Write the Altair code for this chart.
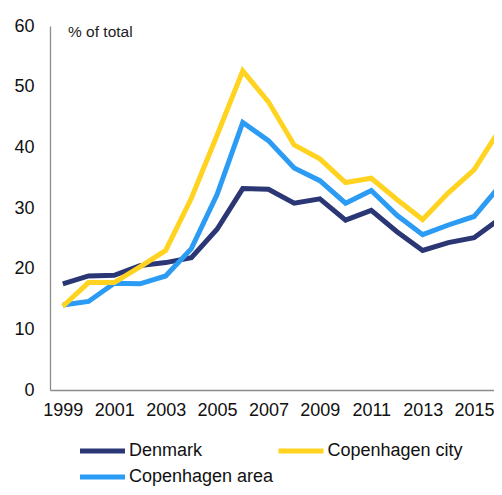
import altair as alt
import pandas as pd

years = list(range(1999, 2017))
denmark = [17.5, 18.8, 18.9, 20.5, 21.0, 21.8, 26.5, 33.2, 33.1, 30.8, 31.5, 28.0, 29.6, 26.1, 23.0, 24.3, 25.1, 28.2]
cph_city = [13.8, 17.7, 17.7, 20.3, 23.0, 31.6, 42.0, 52.6, 47.5, 40.4, 38.1, 34.2, 34.9, 31.4, 28.1, 32.5, 36.3, 42.9]
cph_area = [14.0, 14.6, 17.6, 17.5, 18.8, 23.3, 32.2, 44.1, 41.1, 36.6, 34.5, 30.8, 32.9, 28.8, 25.6, 27.2, 28.6, 33.6]

# legend is filled column by column: Denmark, Copenhagen area | Copenhagen city
series_names = ["Denmark", "Copenhagen area", "Copenhagen city"]
series_values = [denmark, cph_area, cph_city]
series_colors = ["#2B3674", "#2B9BF4", "#FFD320"]
draw_order = [0, 2, 1]
x_ticks = list(range(1999, 2016, 2))
y_ticks = [0, 10, 20, 30, 40, 50, 60]
note = "% of total"

rows = []
for name, vals, z in zip(series_names, series_values, draw_order):
    for yr, v in zip(years, vals):
        rows.append({"year": yr, "series": name, "value": v, "z": z})
df = pd.DataFrame(rows)

FONT = "Liberation Sans"

lines = alt.Chart(df).mark_line(strokeWidth=5, clip=True).encode(
    x=alt.X(
        "year:Q",
        scale=alt.Scale(domain=[1998.5, 2015.776], nice=False, zero=False),
        axis=alt.Axis(values=x_ticks, format="d", title=None, grid=False, ticks=False,
                      labelPadding=11, labelFontSize=18, labelFont=FONT, labelColor="#111111",
                      domainColor="#8c8c8c", domainWidth=1.3, labelFlush=False),
    ),
    y=alt.Y(
        "value:Q",
        scale=alt.Scale(domain=[0, 60], nice=False),
        axis=alt.Axis(values=y_ticks, title=None, grid=False, ticks=False,
                      labelPadding=16, labelFontSize=18, labelFont=FONT, labelColor="#111111",
                      domainColor="#8c8c8c", domainWidth=1.3),
    ),
    color=alt.Color(
        "series:N",
        scale=alt.Scale(domain=series_names, range=series_colors),
        legend=alt.Legend(
            title=None, orient="none", legendX=27.5, legendY=415, columns=2,
            symbolType="stroke", symbolSize=2025, symbolStrokeWidth=5,
            clipHeight=20, rowPadding=6, columnPadding=2.5, labelOffset=1.5,
            labelFontSize=18, labelFont=FONT, labelColor="#111111", padding=0,
        ),
    ),
    order=alt.Order("z:Q"),
    detail="z:Q",
)

note_layer = alt.Chart(pd.DataFrame({"t": [note]})).mark_text(
    align="left", baseline="middle", fontSize=15.5, font=FONT, color="#222222"
).encode(x=alt.value(18), y=alt.value(6), text="t:N")

chart = alt.layer(lines, note_layer).properties(
    width=444, height=364,
    padding={"left": 42, "top": 18, "right": 0, "bottom": 97},
    autosize=alt.AutoSizeParams(type="none"),
).configure_view(stroke=None)

chart.save("out.html", embed_options={"renderer": "svg", "actions": False})
